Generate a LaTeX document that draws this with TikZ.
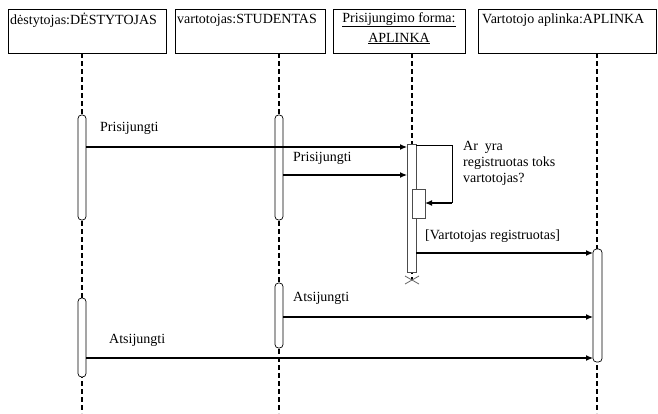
\documentclass[tikz,border=0pt]{standalone}
\usepackage{fontspec}
\setmainfont{Liberation Serif}
\usetikzlibrary{arrows.meta}
\begin{document}
\begin{tikzpicture}[x=1pt,y=-1pt,
  lifeline/.style={line width=1.2pt,dash pattern=on 5pt off 3pt},
  actbar/.style={draw,fill=white,line width=0.7pt,rounded corners=3.5pt},
  msg/.style={line width=1.2pt,-{Latex[length=7pt,width=6pt]}},
  lbl/.style={inner sep=0pt,anchor=west},
  every node/.style={font=\fontsize{14}{16}\selectfont}]
\useasboundingbox[fill=white] (0,0) rectangle (658,413);

% participant boxes
\draw[line width=0.9pt] (8,9) rectangle (166,53);
\draw[line width=0.9pt] (175,9) rectangle (325,53);
\draw[line width=0.9pt] (333,9) rectangle (465,53);
\draw[line width=0.9pt] (478,9) rectangle (656,53);
\node[lbl] (t1) at (10,20) {dėstytojas:DĖSTYTOJAS};
\node[lbl] (t2) at (177,20) {vartotojas:STUDENTAS};
\node[align=center,inner sep=0pt,anchor=north] (t3) at (399,12)
  {\underline{Prisijungimo forma:}\\[4pt]\underline{APLINKA}};
\node[lbl] (t4) at (482,20) {Vartotojo aplinka:APLINKA};

% lifelines
\draw[lifeline] (82,53) -- (82,413);
\draw[lifeline] (279,53) -- (279,413);
\draw[lifeline] (412,53) -- (412,280);
\draw[lifeline] (597,53) -- (597,413);

% activation bars
\draw[actbar] (78,115) rectangle (86,220);
\draw[actbar] (275,115) rectangle (283,220);
\draw[actbar] (275,283) rectangle (283,348);
\draw[actbar] (78,298) rectangle (86,377);
\draw[draw=black!70,fill=white,line width=0.7pt] (407,144) rectangle (416,272);
\draw[actbar] (593,249) rectangle (602,362);
\draw[draw=black!70,fill=white,line width=0.7pt] (412,189) rectangle (425,218);

% destruction mark
\draw[black!60,line width=0.8pt] (405,276) -- (419,284) (405,284) -- (419,276);

% named message endpoints
\coordinate (a1) at (86,147);   \coordinate (b1) at (407,147);
\coordinate (a2) at (283,175);  \coordinate (b2) at (407,175);
\coordinate (s0) at (416,145);  \coordinate (s1) at (452,145);
\coordinate (s2) at (452,203);  \coordinate (s3) at (425,203);
\coordinate (a3) at (416,253);  \coordinate (b3) at (593,253);
\coordinate (a4) at (283,317);  \coordinate (b4) at (593,317);
\coordinate (a5) at (86,358);   \coordinate (b5) at (593,358);

% messages
\draw[msg] (a1) -- (b1);
\draw[msg] (a2) -- (b2);
\draw[line width=0.9pt] (s0) -- (s1) -- (s2);
\draw[msg] (s2) -- (s3);
\draw[msg] (a3) -- (b3);
\draw[msg] (a4) -- (b4);
\draw[msg] (a5) -- (b5);

% message labels
\node[lbl] (m1) at (100,128) {Prisijungti};
\node[lbl] (m2) at (293,158) {Prisijungti};
\node[lbl,align=left,anchor=north west] (m3) at (463,141)
  {Ar\ \ yra\\registruotas toks\\vartotojas?};
\node[lbl] (m4) at (425,236) {[Vartotojas registruotas]};
\node[lbl] (m5) at (293,298) {Atsijungti};
\node[lbl] (m6) at (109,340) {Atsijungti};
\end{tikzpicture}
\end{document}
